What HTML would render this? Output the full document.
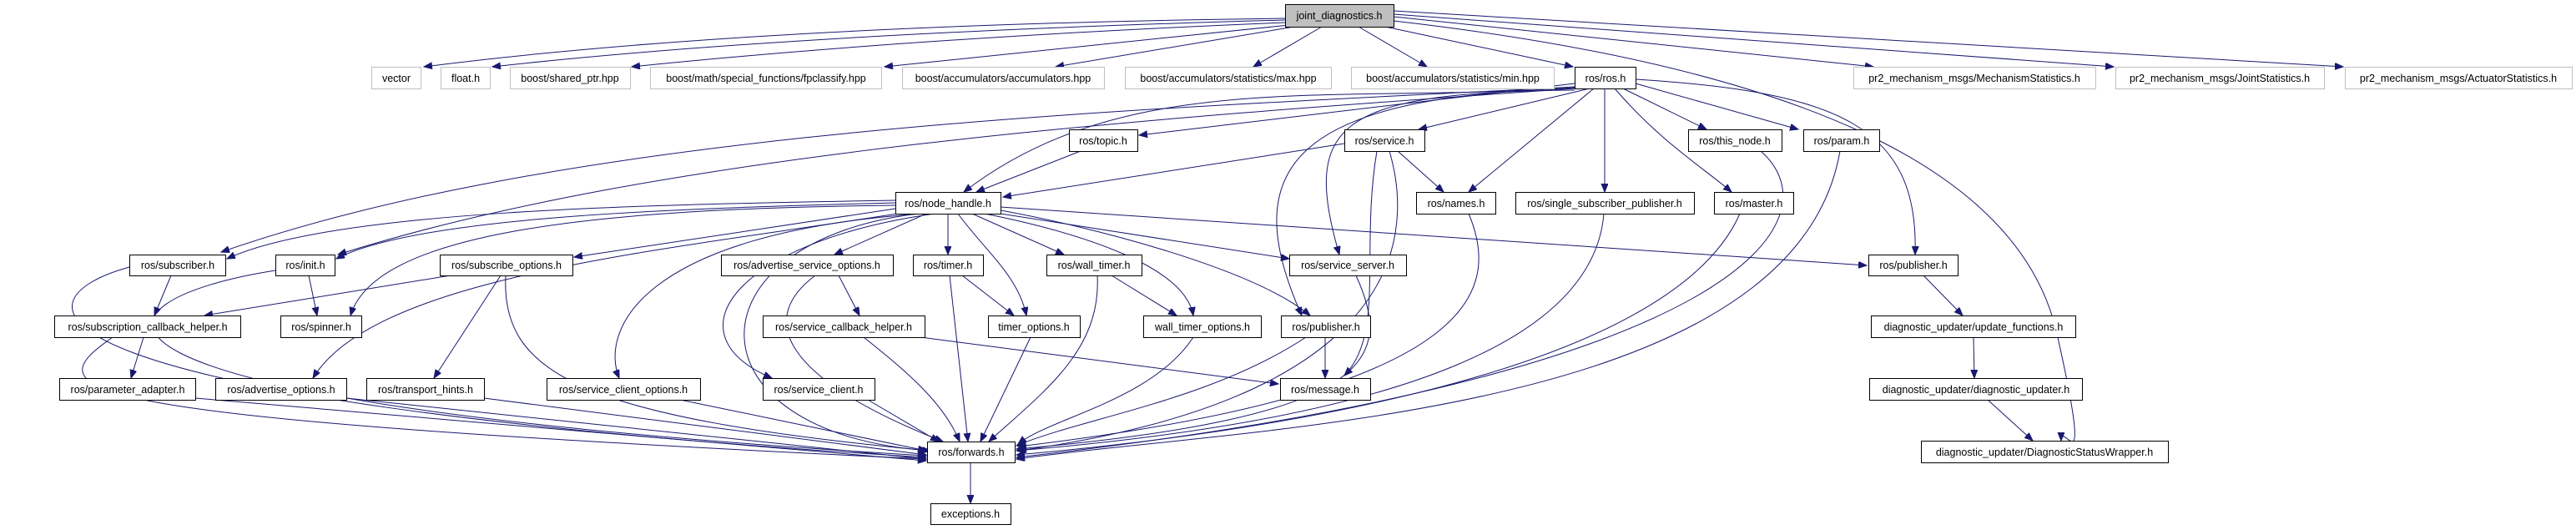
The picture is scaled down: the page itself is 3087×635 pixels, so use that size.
<!DOCTYPE html>
<html><head><meta charset="utf-8"><style>
html,body{margin:0;padding:0;background:#fff;}
svg{display:block;}
text{font-family:"Liberation Sans",sans-serif;font-size:12.5px;fill:#000;text-anchor:middle;}
.n{fill:#fff;stroke:#000;stroke-width:1;}
.g{fill:#fff;stroke:#bfbfbf;stroke-width:1;}
.e{fill:none;stroke:#191970;stroke-width:1;marker-end:url(#a);}
</style></head><body>
<svg width="3087" height="635" viewBox="0 0 3087 635" xmlns="http://www.w3.org/2000/svg">
<defs><marker id="a" markerUnits="userSpaceOnUse" markerWidth="12" markerHeight="10" refX="10" refY="4" orient="auto"><path d="M0,0 L10,4 L0,8 z" fill="#191970" stroke="#191970"/></marker></defs>
<g>
<path class="e" d="M1540,22 Q900,30 508,80"/>
<path class="e" d="M1540,24 Q950,40 590,80"/>
<path class="e" d="M1540,27 Q1100,45 757,80"/>
<path class="e" d="M1545,30 L1060,80"/>
<path class="e" d="M1551,32 L1265,80"/>
<path class="e" d="M1584,32 L1502,80"/>
<path class="e" d="M1628,32 L1710,80"/>
<path class="e" d="M1660,32 L1885,80"/>
<path class="e" d="M1670,20 L2245,80"/>
<path class="e" d="M1670,17 L2533,80"/>
<path class="e" d="M1670,13 L2808,80"/>
<path class="e" d="M1670,25 C2150,80 2420,200 2465,400 S2470,500 2470,528"/>
<path class="e" d="M1887,100 L1365,162"/>
<path class="e" d="M1905,106 L1700,155"/>
<path class="e" d="M1910,106 L1760,230"/>
<path class="e" d="M1923,106 L1923,230"/>
<path class="e" d="M1935,106 C1990,170 2040,200 2075,230"/>
<path class="e" d="M1945,106 L2045,155"/>
<path class="e" d="M1960,100 L2155,155"/>
<path class="e" d="M1960,95 C2200,110 2300,150 2295,305"/>
<path class="e" d="M1887,105 C1600,125 1350,80 1155,230"/>
<path class="e" d="M1887,104 C1400,130 700,150 265,302"/>
<path class="e" d="M1887,106 C1400,140 800,180 405,305"/>
<path class="e" d="M1887,108 C1600,110 1560,150 1605,305"/>
<path class="e" d="M1887,106 C1550,115 1480,200 1560,378"/>
<path class="e" d="M1073,240 C800,245 400,250 272,310"/>
<path class="e" d="M1073,243 C800,250 500,260 403,310"/>
<path class="e" d="M1073,246 C700,250 450,280 420,378"/>
<path class="e" d="M1073,250 L688,308"/>
<path class="e" d="M1075,256 C800,300 450,330 375,453"/>
<path class="e" d="M1105,256 C760,280 720,400 742,453"/>
<path class="e" d="M1120,256 C880,290 800,400 925,453"/>
<path class="e" d="M1100,256 C820,290 820,520 1115,540"/>
<path class="e" d="M1110,256 L1000,305"/>
<path class="e" d="M1136,256 L1136,305"/>
<path class="e" d="M1148,256 C1180,300 1220,330 1230,378"/>
<path class="e" d="M1165,256 L1275,305"/>
<path class="e" d="M1180,256 C1300,280 1420,320 1430,378"/>
<path class="e" d="M1199,252 C1300,270 1500,320 1570,378"/>
<path class="e" d="M1199,256 L1545,310"/>
<path class="e" d="M1199,248 L2237,318"/>
<path class="e" d="M1295,181 L1170,230"/>
<path class="e" d="M1611,172 L1202,236"/>
<path class="e" d="M1675,181 L1730,230"/>
<path class="e" d="M1650,181 C1630,300 1660,400 1611,450"/>
<path class="e" d="M1665,181 C1700,300 1660,480 1220,540"/>
<path class="e" d="M1760,256 C1800,350 1770,470 1220,535"/>
<path class="e" d="M1922,256 C1910,400 1700,500 1218,540"/>
<path class="e" d="M2085,256 C2000,450 1500,520 1218,545"/>
<path class="e" d="M2110,181 C2200,260 2100,450 1218,548"/>
<path class="e" d="M2205,181 C2150,500 1500,510 1218,550"/>
<path class="e" d="M1625,330 C1670,430 1650,500 1218,538"/>
<path class="e" d="M205,330 L185,378"/>
<path class="e" d="M155,320 C10,360 0,480 1110,548"/>
<path class="e" d="M370,330 L380,378"/>
<path class="e" d="M330,324 C100,360 0,480 1110,546"/>
<path class="e" d="M540,330 L245,378"/>
<path class="e" d="M600,330 L520,453"/>
<path class="e" d="M606,330 C600,450 700,500 1112,540"/>
<path class="e" d="M172,404 L157,453"/>
<path class="e" d="M135,404 C40,470 60,500 1110,550"/>
<path class="e" d="M234,477 L1110,552"/>
<path class="e" d="M415,477 L1110,550"/>
<path class="e" d="M580,477 L1110,545"/>
<path class="e" d="M815,479 L1110,540"/>
<path class="e" d="M1040,479 L1125,529"/>
<path class="e" d="M1005,330 L1030,378"/>
<path class="e" d="M977,330 C910,380 930,450 1130,529"/>
<path class="e" d="M1035,404 C1080,440 1130,480 1150,529"/>
<path class="e" d="M1103,404 L1532,460"/>
<path class="e" d="M1138,330 L1160,529"/>
<path class="e" d="M1153,330 L1215,378"/>
<path class="e" d="M1235,404 L1175,529"/>
<path class="e" d="M1332,330 L1410,378"/>
<path class="e" d="M1315,330 C1320,420 1250,470 1185,529"/>
<path class="e" d="M1430,404 C1380,480 1260,500 1220,532"/>
<path class="e" d="M1588,404 L1588,453"/>
<path class="e" d="M1565,404 C1450,480 1300,500 1218,534"/>
<path class="e" d="M1163,554 L1163,603"/>
<path class="e" d="M2305,330 L2352,378"/>
<path class="e" d="M2365,404 L2366,453"/>
<path class="e" d="M2382,479 L2436,528"/>
</g>
<g>
<rect x="1540.5" y="5.5" width="130" height="27" fill="#bfbfbf" stroke="#000"/><text x="1605" y="23">joint_diagnostics.h</text>
<rect class="g" x="445.5" y="80.5" width="59" height="26"/><text x="475" y="98">vector</text>
<rect class="g" x="528.5" y="80.5" width="59" height="26"/><text x="558" y="98">float.h</text>
<rect class="g" x="611.5" y="80.5" width="144" height="26"/><text x="683" y="98">boost/shared_ptr.hpp</text>
<rect class="g" x="779.5" y="80.5" width="277" height="26"/><text x="918" y="98">boost/math/special_functions/fpclassify.hpp</text>
<rect class="g" x="1081.5" y="80.5" width="242" height="26"/><text x="1202" y="98">boost/accumulators/accumulators.hpp</text>
<rect class="g" x="1348.5" y="80.5" width="247" height="26"/><text x="1472" y="98">boost/accumulators/statistics/max.hpp</text>
<rect class="g" x="1619.5" y="80.5" width="243" height="26"/><text x="1741" y="98">boost/accumulators/statistics/min.hpp</text>
<rect class="n" x="1887.5" y="80.5" width="73" height="26"/><text x="1924" y="98">ros/ros.h</text>
<rect class="g" x="2221.5" y="80.5" width="290" height="26"/><text x="2366" y="98">pr2_mechanism_msgs/MechanismStatistics.h</text>
<rect class="g" x="2535.5" y="80.5" width="250" height="26"/><text x="2660" y="98">pr2_mechanism_msgs/JointStatistics.h</text>
<rect class="g" x="2810.5" y="80.5" width="272" height="26"/><text x="2946" y="98">pr2_mechanism_msgs/ActuatorStatistics.h</text>
<rect class="n" x="1281.5" y="155.5" width="82" height="26"/><text x="1322" y="173">ros/topic.h</text>
<rect class="n" x="1611.5" y="155.5" width="96" height="26"/><text x="1659" y="173">ros/service.h</text>
<rect class="n" x="2023.5" y="155.5" width="112" height="26"/><text x="2079" y="173">ros/this_node.h</text>
<rect class="n" x="2161.5" y="155.5" width="91" height="26"/><text x="2207" y="173">ros/param.h</text>
<rect class="n" x="1073.5" y="230.5" width="126" height="26"/><text x="1136" y="248">ros/node_handle.h</text>
<rect class="n" x="1697.5" y="230.5" width="95" height="26"/><text x="1745" y="248">ros/names.h</text>
<rect class="n" x="1816.5" y="230.5" width="214" height="26"/><text x="1923" y="248">ros/single_subscriber_publisher.h</text>
<rect class="n" x="2054.5" y="230.5" width="95" height="26"/><text x="2102" y="248">ros/master.h</text>
<rect class="n" x="155.5" y="305.5" width="115" height="25"/><text x="213" y="322">ros/subscriber.h</text>
<rect class="n" x="330.5" y="305.5" width="71" height="25"/><text x="366" y="322">ros/init.h</text>
<rect class="n" x="527.5" y="305.5" width="159" height="25"/><text x="607" y="322">ros/subscribe_options.h</text>
<rect class="n" x="864.5" y="305.5" width="206" height="25"/><text x="967" y="322">ros/advertise_service_options.h</text>
<rect class="n" x="1094.5" y="305.5" width="84" height="25"/><text x="1136" y="322">ros/timer.h</text>
<rect class="n" x="1254.5" y="305.5" width="114" height="25"/><text x="1311" y="322">ros/wall_timer.h</text>
<rect class="n" x="1545.5" y="305.5" width="140" height="25"/><text x="1615" y="322">ros/service_server.h</text>
<rect class="n" x="2239.5" y="305.5" width="107" height="25"/><text x="2293" y="322">ros/publisher.h</text>
<rect class="n" x="65.5" y="378.5" width="223" height="26"/><text x="177" y="396">ros/subscription_callback_helper.h</text>
<rect class="n" x="336.5" y="378.5" width="97" height="26"/><text x="385" y="396">ros/spinner.h</text>
<rect class="n" x="914.5" y="378.5" width="194" height="26"/><text x="1011" y="396">ros/service_callback_helper.h</text>
<rect class="n" x="1184.5" y="378.5" width="110" height="26"/><text x="1239" y="396">timer_options.h</text>
<rect class="n" x="1370.5" y="378.5" width="141" height="26"/><text x="1441" y="396">wall_timer_options.h</text>
<rect class="n" x="1535.5" y="378.5" width="107" height="26"/><text x="1589" y="396">ros/publisher.h</text>
<rect class="n" x="2242.5" y="378.5" width="245" height="26"/><text x="2365" y="396">diagnostic_updater/update_functions.h</text>
<rect class="n" x="71.5" y="453.5" width="163" height="26"/><text x="153" y="471">ros/parameter_adapter.h</text>
<rect class="n" x="258.5" y="453.5" width="157" height="26"/><text x="337" y="471">ros/advertise_options.h</text>
<rect class="n" x="439.5" y="453.5" width="141" height="26"/><text x="510" y="471">ros/transport_hints.h</text>
<rect class="n" x="655.5" y="453.5" width="184" height="26"/><text x="747" y="471">ros/service_client_options.h</text>
<rect class="n" x="914.5" y="453.5" width="134" height="26"/><text x="981" y="471">ros/service_client.h</text>
<rect class="n" x="1534.5" y="453.5" width="108" height="26"/><text x="1588" y="471">ros/message.h</text>
<rect class="n" x="2240.5" y="453.5" width="255" height="26"/><text x="2368" y="471">diagnostic_updater/diagnostic_updater.h</text>
<rect class="n" x="1111.5" y="529.5" width="105" height="25"/><text x="1164" y="546">ros/forwards.h</text>
<rect class="n" x="2302.5" y="528.5" width="296" height="26"/><text x="2450" y="546">diagnostic_updater/DiagnosticStatusWrapper.h</text>
<rect class="n" x="1115.5" y="603.5" width="96" height="25"/><text x="1163" y="620">exceptions.h</text>
</g>
</svg>
</body></html>
